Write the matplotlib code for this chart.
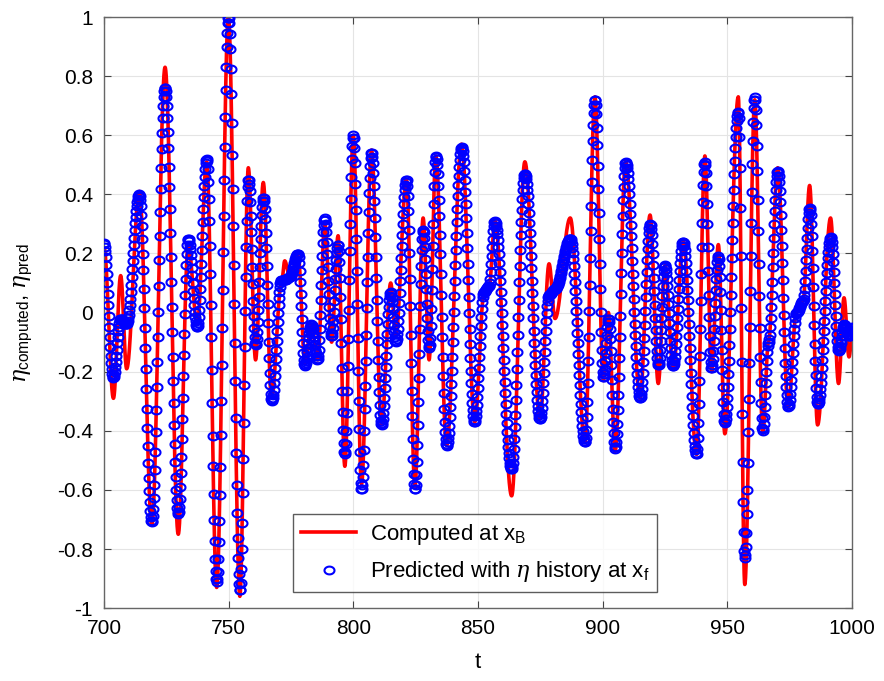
import numpy as np
import matplotlib
matplotlib.use("Agg")
import matplotlib.pyplot as plt
from matplotlib.path import Path

plt.rcParams['font.family'] = ['Liberation Sans', 'DejaVu Sans']
plt.rcParams['mathtext.fontset'] = 'custom'
plt.rcParams['mathtext.rm'] = 'Liberation Sans'
plt.rcParams['mathtext.it'] = 'DejaVu Serif:italic'
plt.rcParams['axes.unicode_minus'] = False

# Turning points of the two series
t_ext = [700.0, 703.8, 706.7, 709.1, 714.2, 719.2, 724.5, 729.8, 733.8, 737.4,
         741.2, 745.2, 749.9, 754.5, 757.9, 760.8, 763.9, 767.2, 771.2, 772.5,
         774.5, 777.9, 780.6, 783.2, 785.7, 788.6, 791.3, 793.9, 796.6, 800.0,
         803.3, 807.3, 811.3, 815.0, 817.0, 821.3, 824.7, 828.0, 830.4, 833.1,
         837.4, 843.4, 848.7, 852.5, 854.5, 856.8, 863.5, 868.8, 874.9, 878.5,
         880.9, 887.0, 892.9, 896.9, 900.3, 902.3, 905.0, 909.2, 915.0, 919.0,
         922.3, 925.0, 928.3, 932.3, 937.7, 941.0, 943.7, 946.4, 949.0, 954.4,
         957.0, 961.0, 964.2, 966.5, 970.2, 974.4, 977.7, 980.4, 983.0, 986.2,
         991.4, 994.6, 996.8, 998.8, 1000.0]
eta_computed = [0.22, -0.29, 0.125, -0.19, 0.41, -0.72, 0.83, -0.75, 0.23, -0.04,
                0.51, -0.93, 1.00, -0.96, 0.49, -0.16, 0.44, -0.29, 0.10, 0.175,
                0.12, 0.19, -0.17, -0.04, -0.16, 0.30, -0.10, 0.26, -0.52, 0.60,
                -0.58, 0.55, -0.38, 0.10, -0.08, 0.45, -0.59, 0.32, -0.16, 0.53,
                -0.45, 0.57, -0.37, 0.07, 0.09, 0.31, -0.62, 0.51, -0.36, 0.165,
                -0.02, 0.32, -0.44, 0.73, -0.23, 0.00, -0.47, 0.51, -0.29, 0.33,
                -0.24, 0.16, -0.19, 0.24, -0.48, 0.53, -0.20, 0.23, -0.41, 0.73,
                -0.92, 0.72, -0.41, -0.10, 0.49, -0.32, 0.00, 0.04, 0.43, -0.38,
                0.32, -0.24, 0.05, -0.15, -0.09]
eta_predicted = [0.235, -0.22, -0.02, -0.04, 0.40, -0.71, 0.76, -0.68, 0.25, -0.05,
                 0.52, -0.91, 1.00, -0.94, 0.45, -0.11, 0.39, -0.30, 0.11, 0.11,
                 0.12, 0.20, -0.18, -0.04, -0.16, 0.32, -0.08, 0.23, -0.48, 0.60,
                 -0.60, 0.54, -0.38, 0.07, -0.10, 0.45, -0.60, 0.28, -0.12, 0.53,
                 -0.45, 0.56, -0.37, 0.07, 0.09, 0.31, -0.53, 0.47, -0.36, 0.06,
                 0.08, 0.25, -0.44, 0.72, -0.22, -0.02, -0.46, 0.51, -0.29, 0.30,
                 -0.18, 0.16, -0.18, 0.24, -0.48, 0.51, -0.19, 0.19, -0.375, 0.68,
                 -0.83, 0.73, -0.40, -0.10, 0.48, -0.32, 0.00, 0.04, 0.355, -0.31,
                 0.255, -0.13, -0.04, -0.08, -0.05]

x_ticks = [700, 750, 800, 850, 900, 950, 1000]
y_ticks = [-1, -0.8, -0.6, -0.4, -0.2, 0, 0.2, 0.4, 0.6, 0.8, 1]
y_ticklabels = ['-1', '-0.8', '-0.6', '-0.4', '-0.2', '0', '0.2', '0.4', '0.6', '0.8', '1']


def through_turning_points(tq, tk, yk):
    tk = np.asarray(tk, float)
    yk = np.asarray(yk, float)
    idx = np.clip(np.searchsorted(tk, tq, side='right') - 1, 0, len(tk) - 2)
    s = (tq - tk[idx]) / (tk[idx + 1] - tk[idx])
    w = (1 - np.cos(np.pi * s)) / 2
    return yk[idx] + (yk[idx + 1] - yk[idx]) * w


t_line = np.arange(700.0, 1000.0001, 0.05)
t_pts = np.arange(700.0, 1000.0001, 0.2)
y_line = through_turning_points(t_line, t_ext, eta_computed)
y_pts = through_turning_points(t_pts, t_ext, eta_predicted)

# slightly wide open circle, as in the reference raster
th = np.linspace(0, 2 * np.pi, 41)
ellipse = Path(np.column_stack([np.cos(th), 0.78 * np.sin(th)]), closed=True)

fig = plt.figure(figsize=(8.84, 6.81), dpi=100)
ax = fig.add_axes([0.1176, 0.107, 0.8462, 0.868])

ax.plot(t_line, y_line, color='#ff0000', lw=2.6, label=r'Computed at x$_{\mathrm{B}}$', zorder=2)
ax.plot(t_pts, y_pts, linestyle='none', marker=ellipse, markersize=7.2, markerfacecolor='none',
        markeredgecolor='#0000ff', markeredgewidth=1.5,
        label=r'Predicted with $\eta$ history at x$_{\mathrm{f}}$', zorder=3)

ax.set_xlim(700, 1000)
ax.set_ylim(-1, 1)
ax.set_xticks(x_ticks)
ax.set_yticks(y_ticks)
ax.set_yticklabels(y_ticklabels)
ax.tick_params(direction='in', top=True, right=True, labelsize=15, length=5,
               color='#444444', pad=8)
ax.grid(True, color='#e4e4e4', lw=0.8, zorder=0)
ax.set_axisbelow(True)
for sp in ax.spines.values():
    sp.set_color('#666666')
    sp.set_linewidth(1.0)

ax.set_xlabel('t', fontsize=16, labelpad=10)
ax.set_ylabel(r'$\eta_{\mathrm{computed}}$, $\eta_{\mathrm{pred}}$', fontsize=16, labelpad=16)

leg = ax.legend(loc='lower left', bbox_to_anchor=(0.2527, 0.027), borderaxespad=0,
                fontsize=16, numpoints=1, handlelength=2.5, frameon=True, fancybox=False,
                edgecolor='#333333', borderpad=0.35, labelspacing=0.55, handletextpad=0.6)
leg.get_frame().set_linewidth(1.0)

fig.savefig('out.png', dpi=100)
